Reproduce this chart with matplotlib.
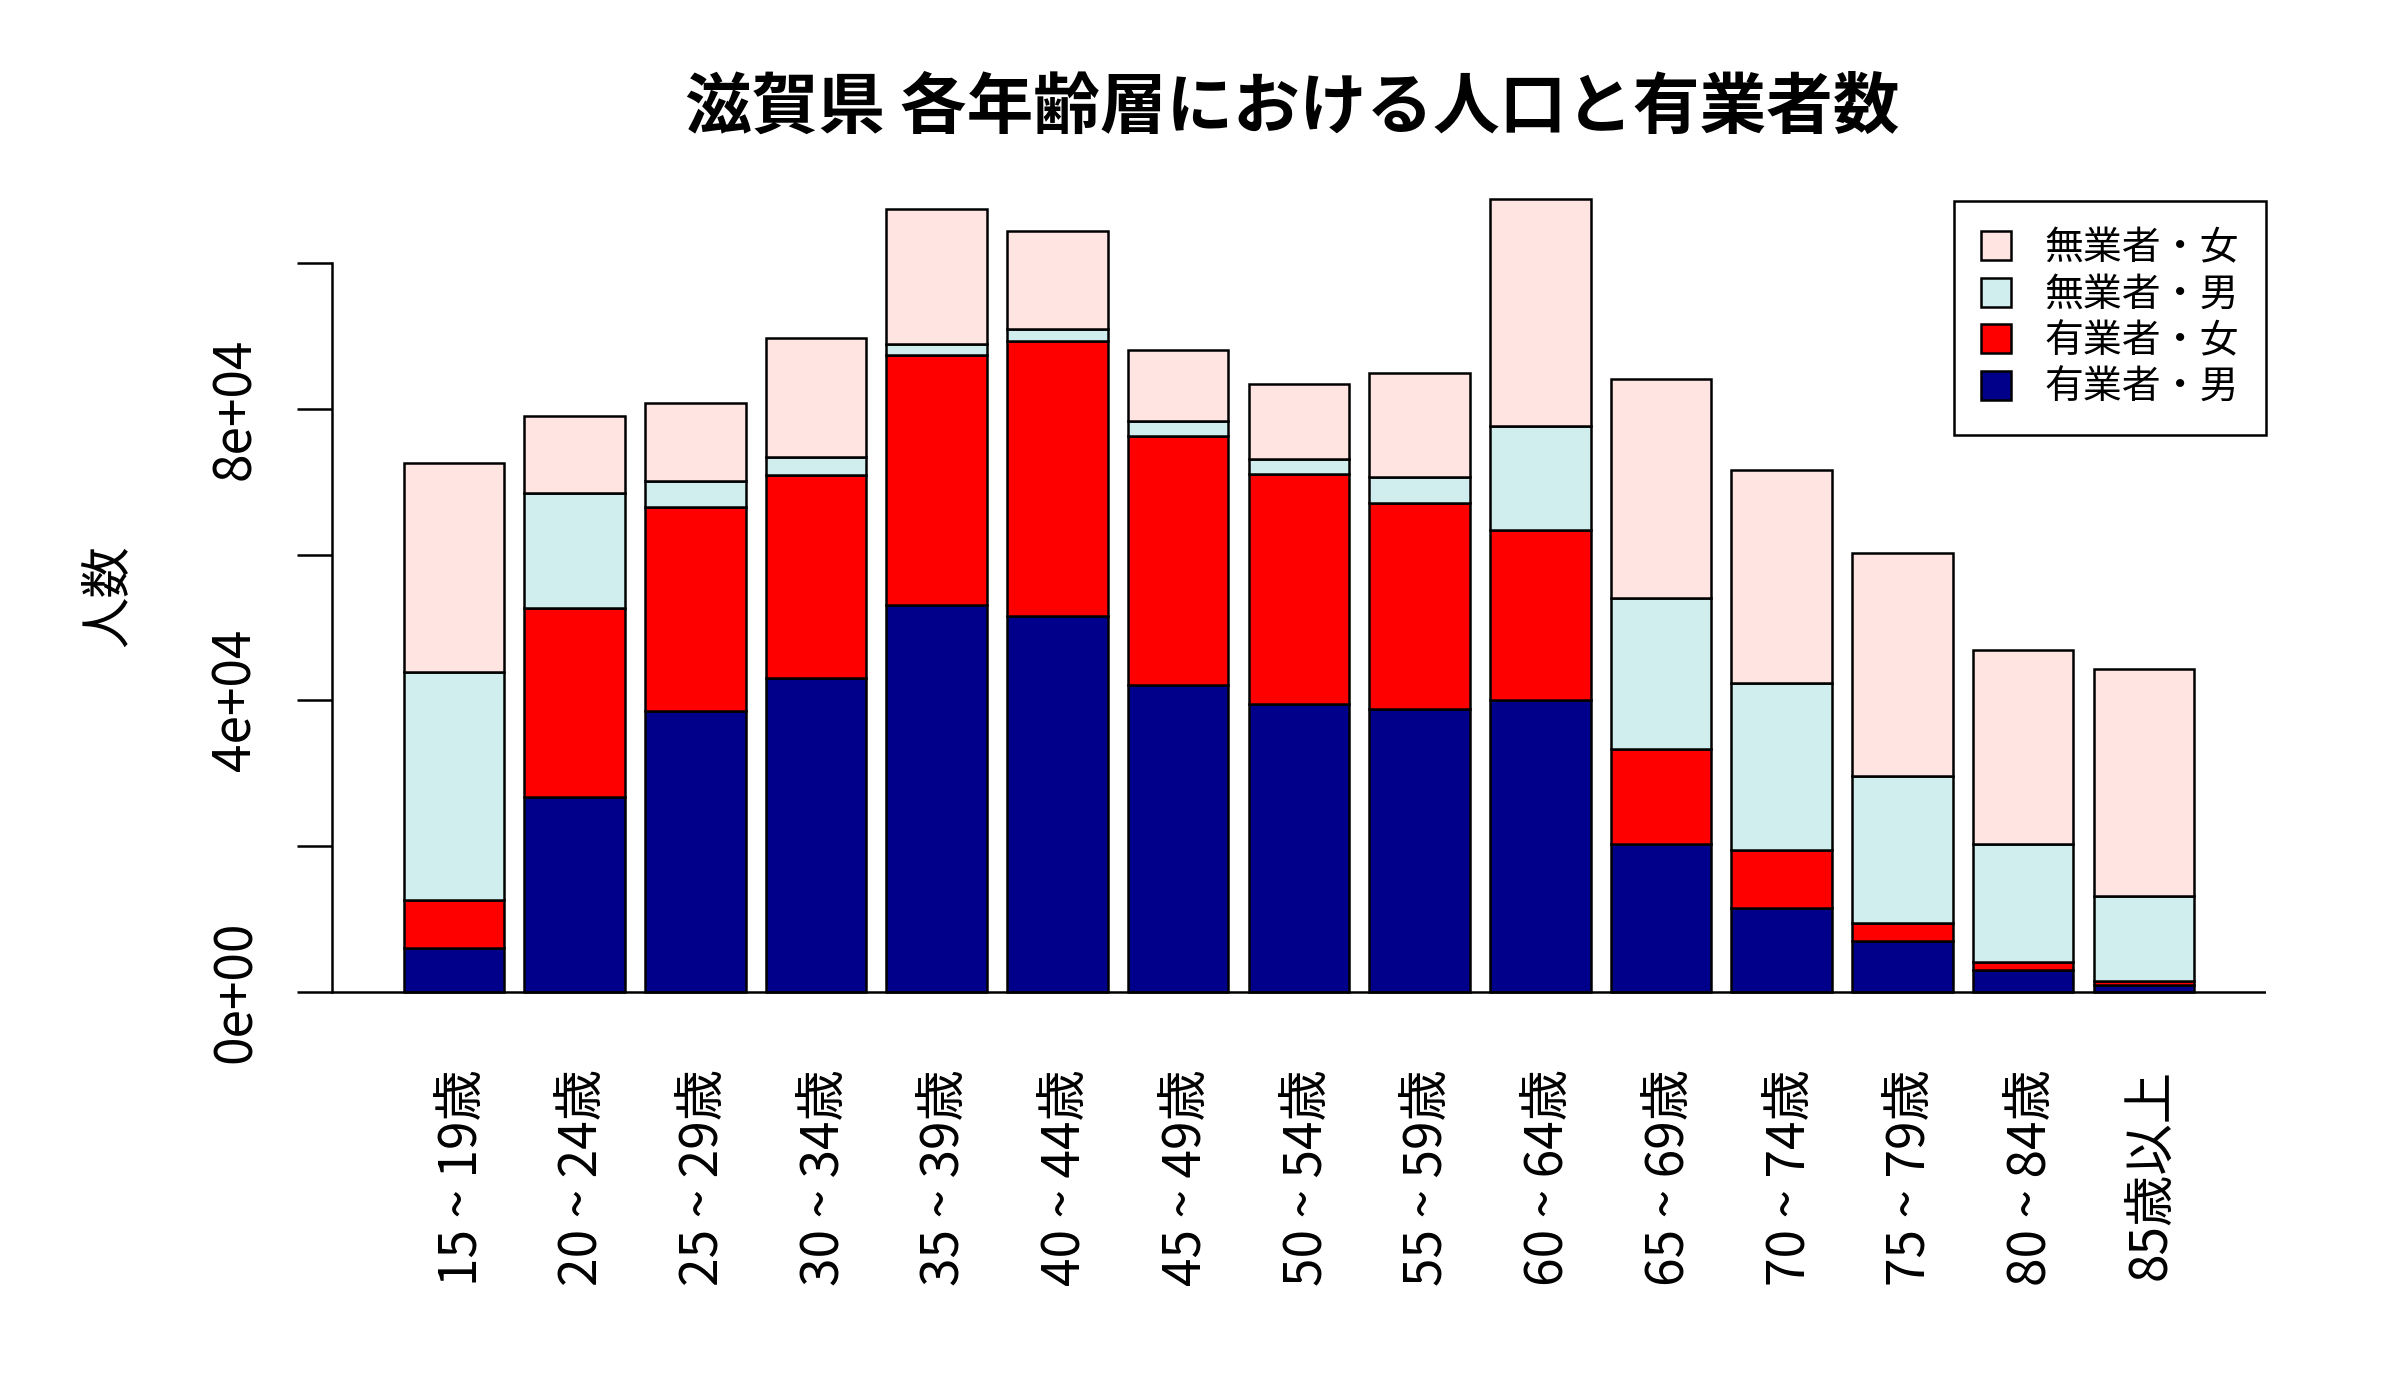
import numpy as np
import matplotlib.transforms as mtransforms
from matplotlib import pyplot as plt

plt.rcParams['font.family'] = ['Noto Sans CJK JP', 'DejaVu Sans']

age_groups = ['15 ~ 19歳', '20 ~ 24歳', '25 ~ 29歳', '30 ~ 34歳', '35 ~ 39歳',
              '40 ~ 44歳', '45 ~ 49歳', '50 ~ 54歳', '55 ~ 59歳', '60 ~ 64歳',
              '65 ~ 69歳', '70 ~ 74歳', '75 ~ 79歳', '80 ~ 84歳', '85歳以上']

# 有業者・男, 有業者・女, 無業者・男, 無業者・女 (stacked bottom to top)
employed_male = [6030, 26780, 38480, 43000, 53050, 51620, 42140, 39480,
                 38770, 39990, 20320, 11490, 6960, 3020, 860]
employed_female = [6530, 25910, 28070, 27850, 34390, 37680, 34170, 31590,
                   28350, 23400, 12990, 7890, 2440, 1000, 580]
unemployed_male = [31370, 15800, 3510, 2590, 1500, 1650, 2080, 2080,
                   3520, 14210, 20670, 23050, 20180, 16220, 11630]
unemployed_female = [28580, 10480, 10700, 16220, 18450, 13500, 9690, 10190,
                     14210, 31230, 30080, 29140, 30580, 26710, 31150]

series = [
    ('有業者・男', employed_male, '#00008B'),
    ('有業者・女', employed_female, '#FF0000'),
    ('無業者・男', unemployed_male, '#D1EEEE'),
    ('無業者・女', unemployed_female, '#FFE4E1'),
]

y_ticks = [0, 20000, 40000, 60000, 80000, 100000]
y_tick_labels = ['0e+00', '', '4e+04', '', '8e+04', '']

fig = plt.figure(figsize=(24, 14), dpi=100)
ax = fig.add_axes([0.1383, 0.2690, 0.8058, 0.6117])

x = 0.7 + 1.2 * np.arange(len(age_groups))
bottom = np.zeros(len(age_groups))
handles = []
for label, values, color in series:
    values = np.array(values, dtype=float)
    bars = ax.bar(x, values, width=1.0, bottom=bottom, color=color,
                  edgecolor='black', linewidth=1.8, label=label)
    handles.append(bars)
    bottom += values

ymax = bottom.max()
ax.set_ylim(-0.04 * ymax, 1.04 * ymax)
span = x[-1] + 0.5 - (x[0] - 0.5)
ax.set_xlim(x[0] - 0.5 - 0.04 * span, x[-1] + 0.5 + 0.04 * span)

ax.axhline(0, color='black', linewidth=1.8)

for side in ['top', 'right', 'bottom']:
    ax.spines[side].set_visible(False)
ax.spines['left'].set_bounds(0, 100000)
ax.spines['left'].set_linewidth(1.8)

ax.set_yticks(y_ticks)
ax.set_yticklabels(y_tick_labels, rotation=90, va='center', fontsize=37)
ax.tick_params(axis='y', length=25, width=1.8, pad=25)

ax.set_xticks(x)
ax.set_xticklabels(age_groups, rotation=90, va='top', ha='center', fontsize=37)
ax.tick_params(axis='x', length=0, pad=33)
# nudge the rotated labels a little to the right, as in the original
shift = mtransforms.ScaledTranslation(0.08, 0, fig.dpi_scale_trans)
for lbl in ax.get_xticklabels():
    lbl.set_transform(lbl.get_transform() + shift)

ax.set_ylabel('人数', fontsize=37, va='center')
ax.yaxis.set_label_coords(-0.116, 0.5)

fig.text(0.5383, 1 - 108 / 1400, '滋賀県 各年齢層における人口と有業者数',
         fontsize=48, fontweight='bold', ha='center', va='center')

legend = ax.legend(handles=handles[::-1], loc='upper right',
                   bbox_to_anchor=(1.0, 0.9603), borderaxespad=0,
                   fontsize=28, handlelength=0.77, handleheight=0.77,
                   handletextpad=0.85, borderpad=0.7, labelspacing=0.17,
                   fancybox=False, framealpha=1, edgecolor='black')
legend.get_frame().set_linewidth(1.8)

fig.savefig('out.png', dpi=100)
